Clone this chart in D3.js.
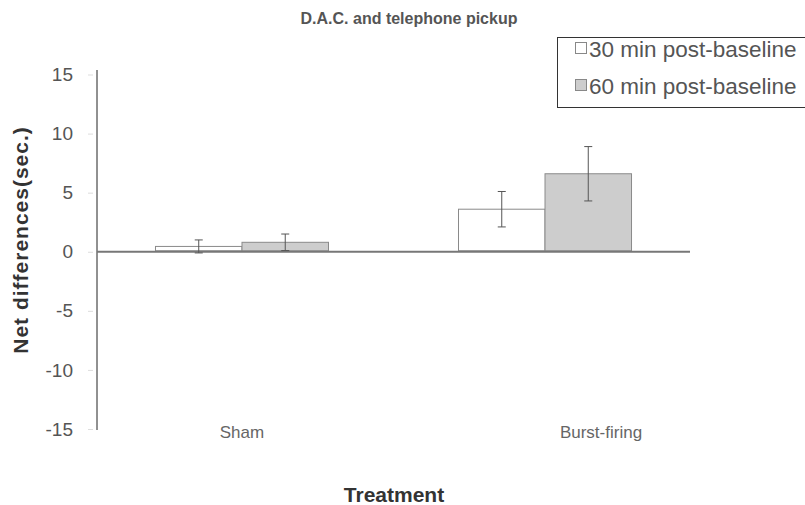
<!DOCTYPE html>
<html><head><meta charset="utf-8">
<script src="https://cdn.jsdelivr.net/npm/d3@7"></script>
<style>body{margin:0;background:#fff}svg{display:block;font-family:"Liberation Sans",Arial,sans-serif}</style>
</head><body><svg id="c" width="805" height="505"></svg>
<script>
const categories = ["Sham", "Burst-firing"];
const seriesNames = ["30 min post-baseline", "60 min post-baseline"];
const values30 = [0.45, 3.6];
const values60 = [0.8, 6.6];
const errors30 = [0.55, 1.5];
const errors60 = [0.7, 2.3];
const yTicks = [15, 10, 5, 0, -5, -10, -15];
const title = "D.A.C. and telephone pickup";
const yTitle = "Net differences(sec.)";
const xTitle = "Treatment";

const svg = d3.select("#c");
const y = d3.scaleLinear().domain([-15, 15]).range([429, 74.5]);
const x0 = d3.scaleBand().domain(categories).range([97, 690]).paddingInner(0.429).paddingOuter(0.193);
const x1 = d3.scaleBand().domain(seriesNames).range([0, x0.bandwidth()]);
const fills = {"30 min post-baseline": "#ffffff", "60 min post-baseline": "#cdcdcd"};

// title
svg.append("text").attr("x", 409).attr("y", 24).attr("text-anchor", "middle")
  .attr("font-size", 16).attr("font-weight", "bold").attr("fill", "#555").text(title);

// y axis
const yAxis = d3.axisLeft(y).tickValues(yTicks).tickSize(5).tickPadding(19).tickFormat(d => String(d));
const ga = svg.append("g").attr("transform", "translate(97,0)").call(yAxis);
ga.select(".domain").attr("stroke", "#222").attr("d", "M0,70V430");
ga.selectAll(".tick line").attr("stroke", "#ddd").attr("x1", -4).attr("x2", -9);
ga.selectAll(".tick text").attr("font-size", 19).attr("fill", "#555").attr("font-family", "Liberation Sans, Arial, sans-serif");

// data rows
const rows = [];
categories.forEach((c, i) => {
  rows.push({cat: c, s: seriesNames[0], v: values30[i], e: errors30[i]});
  rows.push({cat: c, s: seriesNames[1], v: values60[i], e: errors60[i]});
});

const g = svg.append("g");
g.selectAll("rect.bar").data(rows).enter().append("rect").attr("class", "bar")
  .attr("x", d => x0(d.cat) + x1(d.s))
  .attr("width", x1.bandwidth())
  .attr("y", d => y(Math.max(0, d.v)))
  .attr("height", d => Math.abs(y(d.v) - y(0)) - 1)
  .attr("fill", d => fills[d.s]).attr("stroke", "#8a8a8a").attr("stroke-width", 1);

// zero line
svg.append("line").attr("x1", 97).attr("x2", 690).attr("y1", y(0)).attr("y2", y(0))
  .attr("stroke", "#777").attr("stroke-width", 2);

// error bars
const eb = svg.append("g").attr("stroke", "#555").attr("stroke-width", 1);
rows.forEach(d => {
  const cx = x0(d.cat) + x1(d.s) + x1.bandwidth() / 2;
  eb.append("line").attr("x1", cx).attr("x2", cx).attr("y1", y(d.v + d.e)).attr("y2", y(d.v - d.e));
  eb.append("line").attr("x1", cx - 4).attr("x2", cx + 4).attr("y1", y(d.v + d.e)).attr("y2", y(d.v + d.e));
  eb.append("line").attr("x1", cx - 4).attr("x2", cx + 4).attr("y1", y(d.v - d.e)).attr("y2", y(d.v - d.e));
});

// category labels
const catX = {"Sham": x0("Sham") + x0.bandwidth() / 2, "Burst-firing": x0("Burst-firing") + x0.bandwidth() / 2 + 56};
svg.selectAll("text.cat").data(categories).enter().append("text").attr("class", "cat")
  .attr("x", d => catX[d]).attr("y", 438).attr("text-anchor", "middle")
  .attr("font-size", 17).attr("fill", "#666").text(d => d);

// axis titles
svg.append("text").attr("x", 394).attr("y", 502).attr("text-anchor", "middle")
  .attr("font-size", 21).attr("font-weight", "bold").attr("fill", "#333").text(xTitle);
svg.append("text").attr("transform", "translate(28,240) rotate(-90)").attr("text-anchor", "middle")
  .attr("font-size", 21).attr("font-weight", "bold").attr("fill", "#333").attr("letter-spacing", 1).text(yTitle);

// legend
const lg = svg.append("g");
lg.append("rect").attr("x", 557.5).attr("y", 37.5).attr("width", 260).attr("height", 70)
  .attr("fill", "#fff").attr("stroke", "#333").attr("stroke-width", 1);
seriesNames.forEach((s, i) => {
  const yy = 42 + i * 37;
  lg.append("rect").attr("x", 575.5).attr("y", yy + 0.5).attr("width", 11).attr("height", 11)
    .attr("fill", fills[s]).attr("stroke", "#888");
  lg.append("text").attr("x", 589).attr("y", yy + 15).attr("font-size", 22.5).attr("fill", "#555").text(s);
});
</script></body></html>
